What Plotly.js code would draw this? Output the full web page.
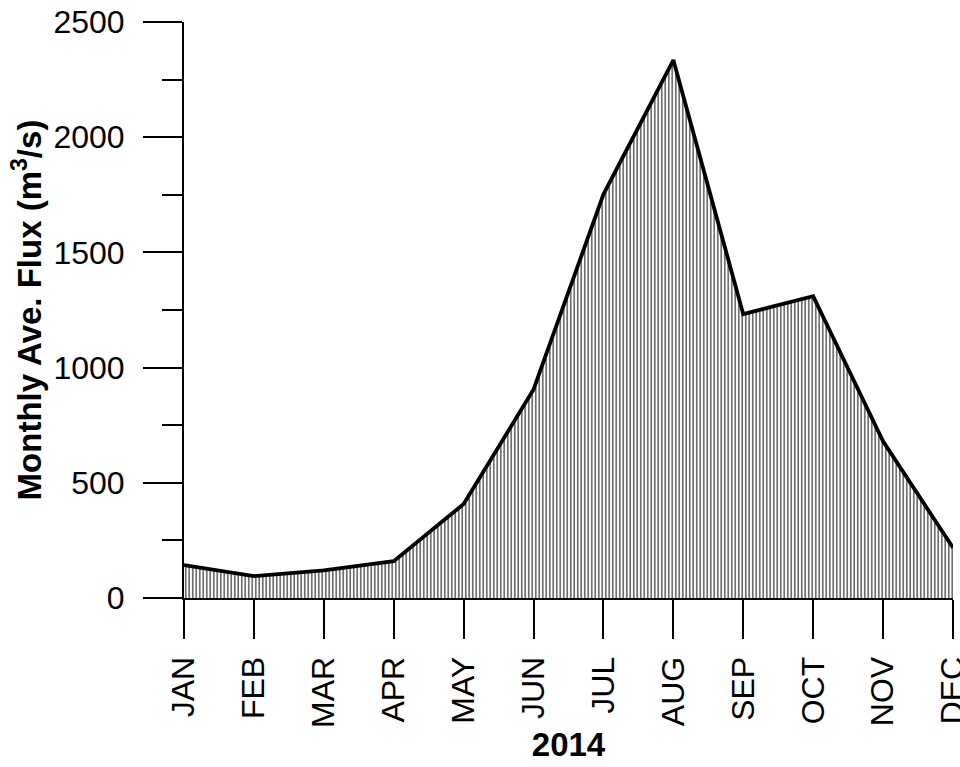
<!DOCTYPE html>
<html>
<head>
<meta charset="utf-8">
<script src="https://cdn.plot.ly/plotly-3.0.1.min.js"></script>
<style>
  html, body { margin: 0; padding: 0; background: #fff; }
  #chart { width: 960px; height: 767px; }
</style>
</head>
<body>
<div id="chart"></div>
<script>
// Monthly average flux for 2014
const months = ['JAN', 'FEB', 'MAR', 'APR', 'MAY', 'JUN', 'JUL', 'AUG', 'SEP', 'OCT', 'NOV', 'DEC'];
const flux = [143, 95, 120, 160, 408, 905, 1752, 2335, 1232, 1310, 680, 218];
const yTicks = [0, 500, 1000, 1500, 2000, 2500];
const yearLabel = '2014';

const font = 'Liberation Sans, Arial, sans-serif';

const trace = {
  x: months,
  y: flux,
  type: 'scatter',
  mode: 'lines',
  line: { color: '#000', width: 3.8 },
  fill: 'tozeroy',
  fillcolor: 'rgba(0,0,0,0)',
  fillpattern: { shape: '|', size: 3.5, solidity: 0.28, fgcolor: '#000', bgcolor: '#fff' },
  hoverinfo: 'skip'
};

const layout = {
  width: 960,
  height: 767,
  margin: { l: 184, r: 7, t: 22, b: 169 },
  paper_bgcolor: '#fff',
  plot_bgcolor: '#fff',
  showlegend: false,
  font: { family: font, color: '#000' },
  xaxis: {
    type: 'category',
    range: [0, 11],
    showgrid: false,
    zeroline: false,
    showline: true,
    linecolor: '#000',
    linewidth: 2,
    ticks: 'outside',
    ticklen: 39,
    tickwidth: 2,
    tickcolor: '#000',
    tickangle: -90,
    ticklabelstandoff: 5,
    tickfont: { size: 32, family: font, color: '#000' },
    title: { text: yearLabel, font: { size: 33, family: font, color: '#000', weight: 'bold' }, standoff: 6 },
    automargin: false
  },
  yaxis: {
    range: [0, 2500],
    tickvals: yTicks,
    showgrid: false,
    zeroline: false,
    showline: true,
    linecolor: '#000',
    linewidth: 2,
    ticks: 'outside',
    ticklen: 39,
    tickwidth: 2,
    tickcolor: '#000',
    ticklabelstandoff: 12,
    tickfont: { size: 32, family: font, color: '#000' },
    minor: { dtick: 250, ticks: 'outside', ticklen: 20, tickwidth: 2, tickcolor: '#000', showgrid: false },
    title: { text: 'Monthly Ave. Flux (m<sup>3</sup>/s)', font: { size: 33, family: font, color: '#000', weight: 'bold' }, standoff: 2 },
    automargin: false
  }
};

Plotly.newPlot('chart', [trace], layout, { staticPlot: true, displayModeBar: false });
</script>
</body>
</html>
